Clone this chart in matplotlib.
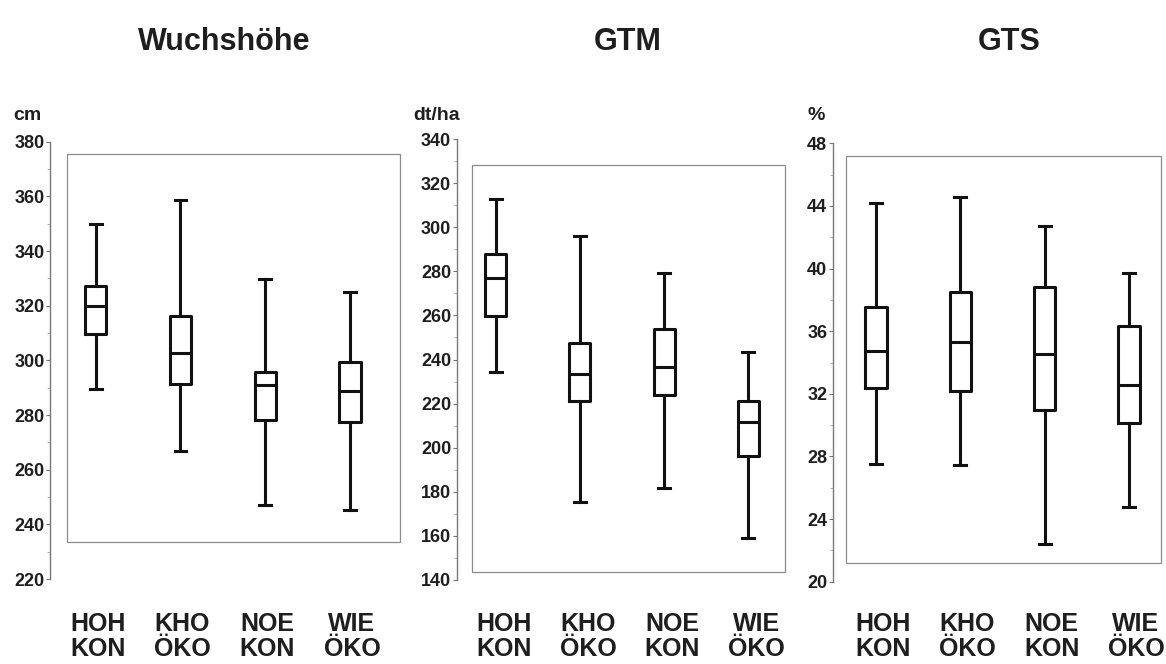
import matplotlib
matplotlib.use("Agg")
import matplotlib.pyplot as plt
from matplotlib.patches import Rectangle
from matplotlib.ticker import MultipleLocator

plt.rcParams["font.family"] = ["Liberation Sans", "DejaVu Sans"]
plt.rcParams["font.weight"] = "bold"

# Cultivation sites (site, system)
sites = ["HOH", "KHO", "NOE", "WIE"]
systems = ["KON", "ÖKO", "KON", "ÖKO"]

# Wuchshöhe (cm): whisker low, Q1, median, Q3, whisker high
height_low = [289.6, 267.0, 247.1, 245.2]
height_q1 = [309.5, 291.3, 278.2, 277.4]
height_med = [319.9, 302.6, 291.0, 288.9]
height_q3 = [327.3, 316.2, 295.9, 299.5]
height_high = [349.9, 358.7, 329.8, 325.1]

# GTM (dt/ha)
gtm_low = [234.5, 175.2, 181.6, 159.2]
gtm_q1 = [259.7, 221.2, 223.9, 196.2]
gtm_med = [277.1, 233.4, 236.7, 211.5]
gtm_q3 = [287.8, 247.6, 254.0, 221.2]
gtm_high = [312.8, 296.0, 279.4, 243.5]

# GTS (%)
gts_low = [27.5, 27.45, 22.4, 24.8]
gts_q1 = [32.35, 32.2, 30.96, 30.11]
gts_med = [34.75, 35.33, 34.52, 32.56]
gts_q3 = [37.57, 38.52, 38.8, 36.33]
gts_high = [44.17, 44.59, 42.74, 39.74]

titles = ["Wuchshöhe", "GTM", "GTS"]
units = ["cm", "dt/ha", "%"]

W, H = 1166, 664
fig = plt.figure(figsize=(W / 100, H / 100), dpi=100)
fig.patch.set_facecolor("white")

TXT = "#1e1e1e"

# Panel geometry in pixels: axes (left, right, top, bottom), first/last box centre,
# surrounding frame (left, right, top, bottom), y range and tick steps
panels = [
    dict(ax=(50, 400, 141.7, 579), c=(95.7, 350), frame=(66.7, 400, 154, 541.7),
         ylim=(220, 380), major=20, minor=10, title_x=224, unit_x=13, lab_dx=2,
         stats=(height_low, height_q1, height_med, height_q3, height_high)),
    dict(ax=(456.7, 785, 139, 580), c=(495.7, 748.3), frame=(471.7, 785, 165, 571.7),
         ylim=(140, 340), major=20, minor=10, title_x=628, unit_x=413, lab_dx=8,
         stats=(gtm_low, gtm_q1, gtm_med, gtm_q3, gtm_high)),
    dict(ax=(832.7, 1160.7, 143.3, 581.7), c=(876, 1129), frame=(846, 1160.7, 156, 563.3),
         ylim=(20, 48), major=4, minor=2, title_x=1009, unit_x=807, lab_dx=7,
         stats=(gts_low, gts_q1, gts_med, gts_q3, gts_high)),
]

positions = [1, 2, 3, 4]

for p, title, unit in zip(panels, titles, units):
    l, r, t, b = p["ax"]
    ax = fig.add_axes([l / W, 1 - b / H, (r - l) / W, (b - t) / H])
    c0, c1 = p["c"]
    step = (c1 - c0) / 3
    ax.set_xlim(1 - (c0 - l) / step, 1 + (r - c0) / step)
    ax.set_ylim(*p["ylim"])
    ax.patch.set_alpha(0)

    low, q1, med, q3, high = p["stats"]
    bstats = [dict(whislo=a, q1=b_, med=m, q3=d, whishi=e, fliers=[])
              for a, b_, m, d, e in zip(low, q1, med, q3, high)]
    lw = 2.2
    ax.bxp(bstats, positions=positions, widths=0.25, capwidths=0.14,
           showfliers=False, patch_artist=False,
           boxprops=dict(color="#111111", linewidth=lw),
           whiskerprops=dict(color="#111111", linewidth=lw),
           capprops=dict(color="#111111", linewidth=lw),
           medianprops=dict(color="#111111", linewidth=lw))

    for s in ["top", "right", "bottom"]:
        ax.spines[s].set_visible(False)
    ax.spines["left"].set_color("#777777")
    ax.spines["left"].set_linewidth(1.0)

    ax.yaxis.set_major_locator(MultipleLocator(p["major"]))
    ax.yaxis.set_minor_locator(MultipleLocator(p["minor"]))
    ax.tick_params(axis="y", which="major", length=3, width=0.8, color="#777777",
                   labelsize=13, labelcolor=TXT, pad=1)
    ax.tick_params(axis="y", which="minor", length=2, width=0.6, color="#aaaaaa")
    for lab in ax.get_yticklabels():
        lab.set_fontweight("bold")
    ax.set_xticks([])

    # two-line group labels below each box
    for i, (site, system) in enumerate(zip(sites, systems)):
        px = c0 + i * step + p["lab_dx"]
        fig.text(px / W, 1 - 624 / H, site, ha="center", va="center",
                 fontsize=18, fontweight="bold", color=TXT)
        fig.text(px / W, 1 - 649 / H, system, ha="center", va="center",
                 fontsize=18, fontweight="bold", color=TXT)

    # light frame around the plotting region
    fl, fr, ft, fb = p["frame"]
    fig.patches.append(Rectangle((fl / W, 1 - fb / H), (fr - fl) / W, (fb - ft) / H,
                                 transform=fig.transFigure, fill=False,
                                 edgecolor="#8c8c8c", linewidth=0.9))

    fig.text(p["title_x"] / W, 1 - 42 / H, title, ha="center", va="center",
             fontsize=22, fontweight="bold", color=TXT)
    fig.text(p["unit_x"] / W, 1 - 115 / H, unit, ha="left", va="center",
             fontsize=14, fontweight="bold", color=TXT)

fig.savefig("out.png", dpi=100, facecolor="white")
